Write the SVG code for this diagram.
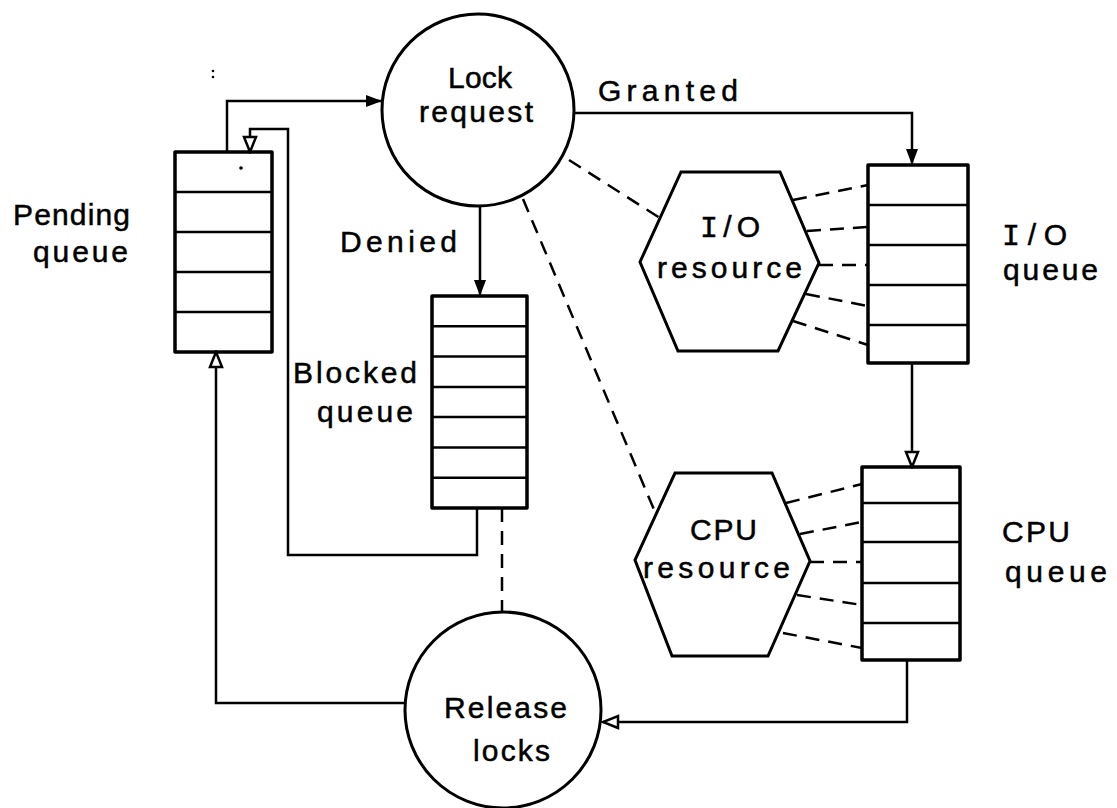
<svg xmlns="http://www.w3.org/2000/svg" width="1117" height="808" viewBox="0 0 1117 808">
<defs>
<style>
.q{fill:#fff;stroke:#000;stroke-width:3.5;stroke-linejoin:round}
.dv{stroke:#000;stroke-width:2.5}
.c{fill:#fff;stroke:#000;stroke-width:3}
.conn{fill:none;stroke:#000;stroke-width:2.5}
.dash{fill:none;stroke:#000;stroke-width:2.5;stroke-dasharray:14 9}
text{font-family:"Liberation Sans",Arial,sans-serif;font-size:30px;fill:#000;stroke:#000;stroke-width:0.5}
.mono{font-family:"Liberation Mono","Courier New",monospace}
</style>
<marker id="af" markerUnits="userSpaceOnUse" viewBox="0 0 16 12" refX="16" refY="6" markerWidth="16" markerHeight="12" orient="auto">
<path d="M0,0 L16,6 L0,12 z" fill="#000"/>
</marker>
<marker id="ao" markerUnits="userSpaceOnUse" viewBox="-2 -2 19 16" refX="15" refY="6" markerWidth="19" markerHeight="16" orient="auto">
<path d="M0,0 L15,6 L0,12 z" fill="#fff" stroke="#000" stroke-width="2.5" stroke-linejoin="miter"/>
</marker>
</defs>
<rect width="1117" height="808" fill="#fff"/>

<g id="pending-queue">
<rect class="q" x="175" y="152" width="97" height="200"/>
<line class="dv" x1="175" y1="192" x2="272" y2="192"/>
<line class="dv" x1="175" y1="232" x2="272" y2="232"/>
<line class="dv" x1="175" y1="272" x2="272" y2="272"/>
<line class="dv" x1="175" y1="312" x2="272" y2="312"/>
<circle cx="241" cy="168" r="1.8" fill="#000"/>
<text x="13" y="225" textLength="117" lengthAdjust="spacing">Pending</text>
<text x="33" y="262" textLength="95" lengthAdjust="spacing">queue</text>
</g>

<g id="lock-request">
<circle class="c" cx="478" cy="110" r="96"/>
<text x="448" y="88" textLength="64" lengthAdjust="spacing">Lock</text>
<text x="419" y="122" textLength="114" lengthAdjust="spacing">request</text>
</g>

<g id="blocked-queue">
<rect class="q" x="432" y="296" width="95" height="212"/>
<line class="dv" x1="432" y1="326.3" x2="527" y2="326.3"/>
<line class="dv" x1="432" y1="356.6" x2="527" y2="356.6"/>
<line class="dv" x1="432" y1="386.9" x2="527" y2="386.9"/>
<line class="dv" x1="432" y1="417.1" x2="527" y2="417.1"/>
<line class="dv" x1="432" y1="447.4" x2="527" y2="447.4"/>
<line class="dv" x1="432" y1="477.7" x2="527" y2="477.7"/>
<text x="293" y="383" textLength="124" lengthAdjust="spacing">Blocked</text>
<text x="317" y="422" textLength="96" lengthAdjust="spacing">queue</text>
</g>

<g id="io-resource">
<polygon class="c" points="681,172 780,172 819,263 778,351 678,351 640,262"/>
<text x="700" y="237" textLength="60" lengthAdjust="spacing"><tspan class="mono">I</tspan>/O</text>
<text x="657" y="278" textLength="145" lengthAdjust="spacing">resource</text>
</g>

<g id="io-queue">
<rect class="q" x="868" y="165" width="100" height="198"/>
<line class="dv" x1="868" y1="205" x2="968" y2="205"/>
<line class="dv" x1="868" y1="245" x2="968" y2="245"/>
<line class="dv" x1="868" y1="285" x2="968" y2="285"/>
<line class="dv" x1="868" y1="325" x2="968" y2="325"/>
<text x="1002" y="245" textLength="65" lengthAdjust="spacing"><tspan class="mono">I</tspan>/O</text>
<text x="1003" y="280" textLength="95" lengthAdjust="spacing">queue</text>
</g>

<g id="cpu-resource">
<polygon class="c" points="675,473 772,473 810,561 768,656 672,656 635,560"/>
<text x="690" y="540" textLength="67" lengthAdjust="spacing">CPU</text>
<text x="643" y="578" textLength="147" lengthAdjust="spacing">resource</text>
</g>

<g id="cpu-queue">
<rect class="q" x="862" y="467" width="98" height="193"/>
<line class="dv" x1="862" y1="503" x2="960" y2="503"/>
<line class="dv" x1="862" y1="542" x2="960" y2="542"/>
<line class="dv" x1="862" y1="583" x2="960" y2="583"/>
<line class="dv" x1="862" y1="623" x2="960" y2="623"/>
<text x="1002" y="542" textLength="68" lengthAdjust="spacing">CPU</text>
<text x="1005" y="582" textLength="102" lengthAdjust="spacing">queue</text>
</g>

<g id="release-locks">
<circle class="c" cx="503" cy="710" r="98"/>
<text x="444" y="718" textLength="123" lengthAdjust="spacing">Release</text>
<text x="473" y="761" textLength="77" lengthAdjust="spacing">locks</text>
</g>

<g id="labels">
<text x="598" y="101" textLength="140" lengthAdjust="spacing">Granted</text>
<text x="340" y="252" textLength="117" lengthAdjust="spacing">Denied</text>
<circle cx="213" cy="71" r="1.3" fill="#000"/>
<circle cx="213" cy="77" r="1.3" fill="#000"/>
</g>

<g id="connectors">
<path class="conn" d="M227,152 V101 H382" marker-end="url(#af)"/>
<path class="conn" d="M573,113 H912 V165" marker-end="url(#af)"/>
<path class="conn" d="M480,206 V296" marker-end="url(#af)"/>
<path class="conn" d="M912,363 V467" marker-end="url(#ao)"/>
<path class="conn" d="M907,660 V722 H603" marker-end="url(#ao)"/>
<path class="conn" d="M405,703 H216 V352" marker-end="url(#ao)"/>
<path class="conn" d="M477,508 V555 H288 V129 H250 V152" marker-end="url(#ao)"/>
<path class="dash" d="M502,508 V612"/>
<path class="dash" d="M569,160 L660,218"/>
<path class="dash" d="M523,199 L655,512"/>
<path class="dash" d="M793,200 L868,185"/>
<path class="dash" d="M807,231 L868,227"/>
<path class="dash" d="M819,265 L868,265"/>
<path class="dash" d="M806,294 L868,306"/>
<path class="dash" d="M793,321 L868,345"/>
<path class="dash" d="M786,503 L862,484"/>
<path class="dash" d="M800,534 L862,522"/>
<path class="dash" d="M810,562 L862,562"/>
<path class="dash" d="M797,595 L862,605"/>
<path class="dash" d="M783,633 L862,648"/>
</g>
</svg>
